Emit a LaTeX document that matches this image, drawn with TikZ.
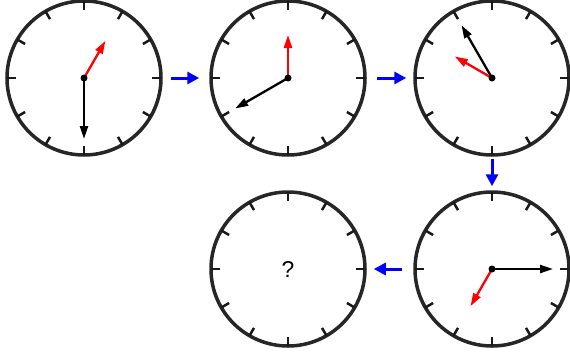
\documentclass[tikz,border=0pt]{standalone}
\usepackage{fontspec}
\setmainfont{Liberation Sans}
\usetikzlibrary{
  arrows.meta,
  calc
}

\begin{document}
\begin{tikzpicture}[x=1bp,y=1bp,>=Latex,
  clock/.style={draw=black!85,line width=3.5bp,circle,minimum size=154bp,inner sep=0pt},
  tickmark/.style={black!90,line width=2.5bp},
  minhand/.style={black,line width=2.3bp,-{Triangle[length=13bp,width=8bp]}},
  hourhand/.style={minhand,red},
  flow/.style={blue,line width=3bp,-{Triangle[length=12bp,width=12bp]}}]
  \useasboundingbox (0,0) rectangle (570,358);
  \node[clock] (c1) at (84,280) {};
  \node[clock] (c2) at (288,280) {};
  \node[clock] (c3) at (492,280) {};
  \node[clock] (c4) at (492,89) {};
  \node[clock,font=\fontsize{23}{28}\selectfont] (c5) at (288,89) {?};
  \foreach \c in {c1,c2,c3,c4,c5}
    \foreach \k in {0,...,11}
      \draw[tickmark] ($(\c)+(\k*30:77)$) -- ($(\c)+(\k*30:68)$);
  \foreach \c/\h/\m in {c1/60/-90,c2/90/210,c3/150/120,c4/240/0} {
    \coordinate (\c m) at ($(\c)+(\m:61)$);
    \coordinate (\c h) at ($(\c)+(\h:43)$);
    \draw[minhand] (\c.center) -- (\c m);
    \draw[hourhand] (\c.center) -- (\c h);
    \fill (\c) circle (3.5bp);
  }
  \draw[flow,shorten <=8bp,shorten >=10bp] (c1) -- (c2);
  \draw[flow,shorten <=10bp,shorten >=7bp] (c2) -- (c3);
  \draw[flow,shorten <=2bp,shorten >=4bp] (c3) -- (c4);
  \draw[flow,shorten <=11bp,shorten >=7bp] (c4) -- (c5);
\end{tikzpicture}
\end{document}
